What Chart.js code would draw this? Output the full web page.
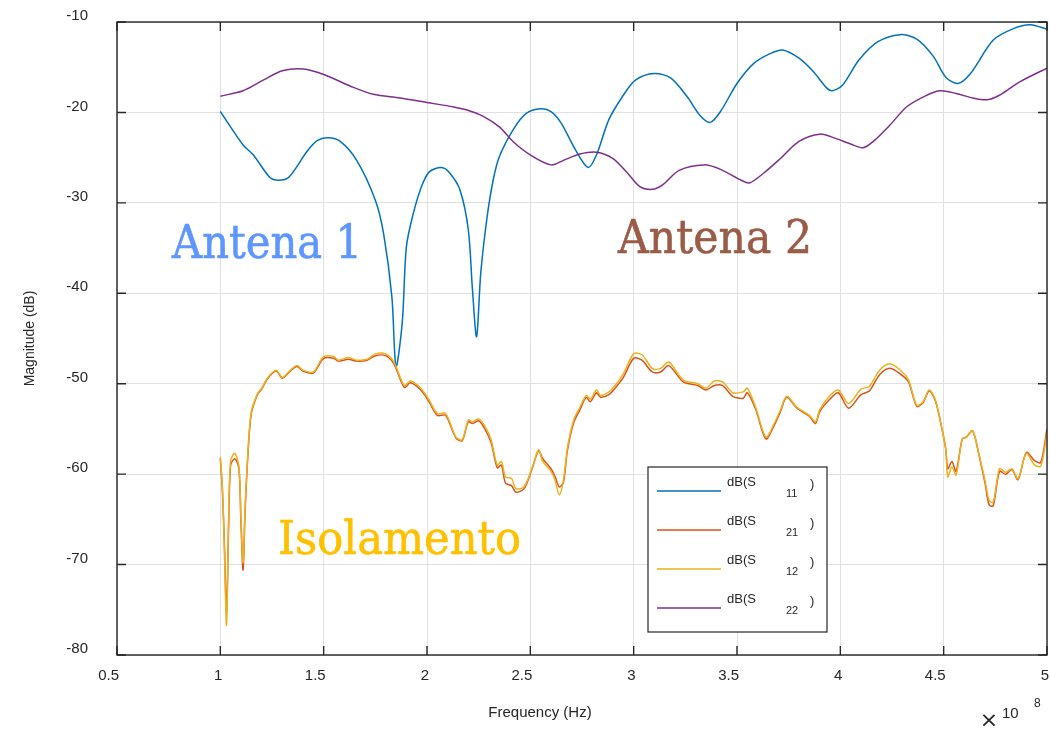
<!DOCTYPE html>
<html>
<head>
<meta charset="utf-8">
<script src="https://cdn.jsdelivr.net/npm/chart.js@4.4.1/dist/chart.umd.min.js"></script>
<style>
    body { margin: 0; background: #fff; }
    #wrap { position: relative; width: 1050px; height: 731px; }
</style>
</head>
<body>
<div id="wrap"><canvas id="chart" width="1050" height="731"></canvas></div>
<script>
// frequency in units of 1e8 Hz
const freqS11 = [1.00, 1.11, 1.16, 1.24, 1.28, 1.33, 1.42, 1.47, 1.52, 1.58, 1.66, 1.75, 1.79, 1.83, 1.85, 1.88, 1.90, 1.93, 1.97, 2.01,
    2.07, 2.11, 2.16, 2.20, 2.22, 2.24, 2.26, 2.29, 2.32, 2.35, 2.42, 2.48, 2.55, 2.60, 2.65, 2.72, 2.78, 2.82, 2.88, 2.95,
    3.01, 3.10, 3.18, 3.26, 3.32, 3.37, 3.42, 3.50, 3.58, 3.66, 3.72, 3.80, 3.87, 3.93, 3.96, 4.01, 4.09, 4.18, 4.29, 4.37,
    4.45, 4.51, 4.57, 4.63, 4.74, 4.84, 4.92, 5.00];
const s11 = [-19.9, -23.6, -24.7, -27.2, -27.5, -27.2, -24.3, -23.1, -22.8, -23.2, -25.3, -29.7, -33.4, -40.4, -48.1, -43.3, -34.9, -31.5, -28.4, -26.6,
    -26.1, -26.7, -28.6, -33.0, -39.6, -44.8, -37.8, -31.7, -27.5, -24.9, -21.8, -20.1, -19.6, -19.9, -21.2, -24.2, -26.1, -24.7, -20.8, -18.1,
    -16.4, -15.7, -16.2, -18.3, -20.3, -21.1, -19.9, -16.8, -14.6, -13.5, -13.1, -14.0, -15.5, -17.2, -17.6, -17.0, -14.2, -12.2, -11.4, -11.9,
    -13.8, -16.1, -16.8, -15.7, -12.0, -10.7, -10.3, -10.8];

const freqS22 = [1.00, 1.11, 1.21, 1.30, 1.40, 1.50, 1.63, 1.74, 1.87, 2.00, 2.13, 2.19, 2.27, 2.35, 2.42, 2.50, 2.60, 2.66, 2.74, 2.82,
    2.90, 2.97, 3.03, 3.09, 3.14, 3.22, 3.34, 3.42, 3.52, 3.56, 3.63, 3.71, 3.80, 3.90, 3.98, 4.05, 4.11, 4.16, 4.24, 4.32,
    4.40, 4.48, 4.56, 4.64, 4.71, 4.77, 4.87, 5.00];
const s22 = [-18.2, -17.6, -16.4, -15.4, -15.2, -15.8, -17.1, -18.0, -18.4, -18.9, -19.4, -19.7, -20.4, -21.6, -23.3, -24.7, -25.8, -25.3, -24.6, -24.4,
    -25.1, -26.7, -28.2, -28.5, -28.0, -26.4, -25.8, -26.3, -27.5, -27.8, -26.7, -25.1, -23.2, -22.4, -22.9, -23.5, -23.9, -23.2, -21.4, -19.4,
    -18.3, -17.6, -17.9, -18.4, -18.6, -18.1, -16.6, -15.1];

const freqIso = [1.00, 1.01, 1.02, 1.03, 1.04, 1.05, 1.07, 1.09, 1.10, 1.11, 1.12, 1.135, 1.15, 1.18, 1.20, 1.23, 1.27, 1.30, 1.33, 1.37,
    1.40, 1.45, 1.50, 1.55, 1.57, 1.62, 1.66, 1.71, 1.75, 1.80, 1.84, 1.89, 1.92, 1.97, 2.01, 2.05, 2.09, 2.14, 2.17, 2.20,
    2.22, 2.25, 2.28, 2.31, 2.34, 2.36, 2.38, 2.41, 2.43, 2.47, 2.51, 2.54, 2.56, 2.60, 2.62, 2.64, 2.66, 2.68, 2.71, 2.74,
    2.77, 2.79, 2.82, 2.84, 2.88, 2.91, 2.95, 3.00, 3.04, 3.09, 3.13, 3.17, 3.24, 3.31, 3.35, 3.39, 3.43, 3.48, 3.53, 3.55,
    3.59, 3.64, 3.68, 3.71, 3.74, 3.79, 3.85, 3.88, 3.90, 3.95, 3.99, 4.04, 4.10, 4.14, 4.19, 4.24, 4.30, 4.33, 4.37, 4.40,
    4.43, 4.46, 4.49, 4.51, 4.52, 4.54, 4.56, 4.59, 4.61, 4.64, 4.67, 4.70, 4.72, 4.74, 4.77, 4.80, 4.83, 4.86, 4.90, 4.94,
    4.97, 5.00];
const s12 = [-58.1, -61.4, -68.7, -76.7, -65.1, -58.5, -57.7, -59.2, -65.1, -69.8, -63.6, -57.0, -53.1, -51.1, -50.5, -49.3, -48.5, -49.3, -48.7, -48.0,
    -48.5, -48.7, -47.0, -47.0, -47.4, -47.1, -47.4, -47.3, -46.7, -46.7, -47.6, -50.2, -49.7, -50.5, -51.8, -53.3, -53.3, -55.9, -56.2, -54.0,
    -54.2, -53.9, -54.7, -56.2, -59.0, -58.6, -60.3, -60.5, -61.6, -61.4, -59.2, -57.3, -58.6, -59.7, -60.7, -62.3, -60.7, -57.0, -54.0, -52.6,
    -51.3, -51.7, -50.7, -51.3, -50.9, -50.2, -48.9, -46.7, -46.8, -48.3, -48.3, -47.6, -49.6, -50.0, -50.5, -49.7, -49.8, -51.0, -50.9, -50.5,
    -52.6, -55.9, -54.4, -52.9, -51.4, -52.6, -53.5, -54.2, -52.9, -51.3, -50.7, -52.2, -50.6, -50.3, -48.5, -47.8, -48.7, -49.6, -52.4, -52.0,
    -50.7, -51.8, -54.8, -57.3, -60.3, -59.2, -60.1, -56.1, -55.9, -55.2, -57.7, -60.7, -62.9, -63.1, -59.4, -59.8, -59.4, -60.5, -57.7, -59.0,
    -59.1, -55.5];
const s21 = [-58.3, -61.8, -68.0, -75.4, -65.8, -59.0, -58.3, -59.4, -65.5, -70.6, -64.0, -57.3, -53.3, -51.2, -50.6, -49.4, -48.6, -49.4, -48.8, -48.1,
    -48.6, -48.8, -47.2, -47.2, -47.5, -47.3, -47.5, -47.4, -46.9, -46.9, -47.8, -50.4, -49.9, -50.7, -52.0, -53.5, -53.5, -56.0, -56.3, -54.2,
    -54.4, -54.1, -55.0, -56.5, -59.3, -59.0, -61.0, -61.3, -62.0, -61.6, -59.3, -57.4, -58.3, -59.4, -60.3, -61.4, -60.9, -57.3, -54.3, -52.9,
    -51.5, -52.0, -51.0, -51.5, -51.2, -50.5, -49.3, -47.2, -47.4, -48.7, -48.7, -48.0, -49.8, -50.2, -50.7, -50.2, -50.2, -51.4, -51.6, -51.0,
    -52.8, -56.1, -54.6, -53.1, -51.5, -52.7, -53.6, -54.4, -53.1, -51.7, -51.0, -52.7, -51.2, -50.8, -49.0, -48.3, -49.1, -49.8, -52.5, -52.1,
    -50.8, -51.9, -54.8, -57.2, -59.4, -58.6, -59.7, -56.1, -55.9, -55.2, -57.8, -61.0, -63.4, -63.5, -59.7, -60.0, -59.5, -60.6, -57.6, -58.5,
    -58.7, -55.0];

const xTicks = [0.5, 1, 1.5, 2, 2.5, 3, 3.5, 4, 4.5, 5];
const yTicks = [-80, -70, -60, -50, -40, -30, -20, -10];

const seriesNames = ['11', '21', '12', '22'];
const seriesColors = ['#0072BD', '#D95319', '#EDB120', '#7E2F8E'];

function points(xs, ys) {
    return xs.map((x, i) => ({x: x, y: ys[i]}));
}

const AXIS_COLOR = '#262626';
const LABEL_FONT = '"Liberation Sans", Arial, sans-serif';

// caixa do grafico com ticks para dentro (estilo matlab)
const boxPlugin = {
    id: 'box',
    afterDraw(chart) {
        const ctx = chart.ctx;
        const a = chart.chartArea;
        const xs = chart.scales.x, ys = chart.scales.y;
        ctx.save();
        ctx.strokeStyle = AXIS_COLOR;
        ctx.lineWidth = 1.4;
        ctx.strokeRect(a.left, a.top, a.right - a.left, a.bottom - a.top);
        ctx.beginPath();
        xTicks.forEach(v => {
            const px = xs.getPixelForValue(v);
            ctx.moveTo(px, a.bottom); ctx.lineTo(px, a.bottom - 9);
            ctx.moveTo(px, a.top); ctx.lineTo(px, a.top + 9);
        });
        yTicks.forEach(v => {
            const py = ys.getPixelForValue(v);
            ctx.moveTo(a.left, py); ctx.lineTo(a.left + 9, py);
            ctx.moveTo(a.right, py); ctx.lineTo(a.right - 9, py);
        });
        ctx.stroke();

        ctx.fillStyle = AXIS_COLOR;
        ctx.textBaseline = 'middle';

        // titulo do eixo x (no matlab fica deslocado para a esquerda)
        ctx.font = '15px ' + LABEL_FONT;
        ctx.textAlign = 'center';
        ctx.fillText('Frequency (Hz)', 540, 713);

        // x 10^8
        ctx.textAlign = 'left';
        ctx.fillText('10', 1002, 714);
        ctx.font = '12px ' + LABEL_FONT;
        ctx.fillText('8', 1034, 704);
        ctx.font = '22px "DejaVu Sans", sans-serif';
        ctx.textAlign = 'center';
        ctx.fillText('×', 989, 721);

        // legenda
        const lx = 648, ly = 467, lw = 179, lh = 165;
        ctx.fillStyle = '#fff';
        ctx.fillRect(lx, ly, lw, lh);
        ctx.lineWidth = 1.2;
        ctx.strokeStyle = AXIS_COLOR;
        ctx.strokeRect(lx, ly, lw, lh);
        seriesNames.forEach((n, i) => {
            const y = 491 + i * 39;
            ctx.strokeStyle = seriesColors[i];
            ctx.lineWidth = 1.5;
            ctx.beginPath();
            ctx.moveTo(657, y); ctx.lineTo(721, y);
            ctx.stroke();
            ctx.fillStyle = AXIS_COLOR;
            ctx.textAlign = 'left';
            ctx.font = '13px ' + LABEL_FONT;
            ctx.fillText('dB(S', 727, y - 9);
            ctx.fillText(')', 810, y - 7);
            ctx.font = '11px ' + LABEL_FONT;
            ctx.fillText(n, 786, y + 3);
        });
        ctx.restore();
    }
};

// textos grandes dentro do grafico
const notes = [
    {text: 'Antena 1', x: 172, y: 258, w: 190, color: '#5E96FF'},
    {text: 'Antena 2', x: 618, y: 253, w: 194, color: '#9A5B47'},
    {text: 'Isolamento', x: 278, y: 554, w: 243, color: '#FFC000'}
];
const notesPlugin = {
    id: 'notes',
    afterDatasetsDraw(chart) {
        const ctx = chart.ctx;
        ctx.save();
        ctx.font = '46px "DejaVu Serif", serif';
        ctx.textBaseline = 'alphabetic';
        ctx.textAlign = 'left';
        notes.forEach(n => {
            const m = ctx.measureText(n.text).width;
            ctx.save();
            ctx.translate(n.x, n.y);
            ctx.scale(n.w / m, 1);
            ctx.fillStyle = n.color;
            ctx.strokeStyle = n.color;
            ctx.lineWidth = 0.6;
            ctx.fillText(n.text, 0, 0);
            ctx.strokeText(n.text, 0, 0);
            ctx.restore();
        });
        ctx.restore();
    }
};

const tickFont = {family: LABEL_FONT, size: 15};

new Chart(document.getElementById('chart'), {
    type: 'line',
    data: {
        datasets: [
            {label: 'dB(S11)', data: points(freqS11, s11), borderColor: seriesColors[0], order: 4},
            {label: 'dB(S21)', data: points(freqIso, s21), borderColor: seriesColors[1], order: 3},
            {label: 'dB(S12)', data: points(freqIso, s12), borderColor: seriesColors[2], order: 2},
            {label: 'dB(S22)', data: points(freqS22, s22), borderColor: seriesColors[3], order: 1}
        ]
    },
    options: {
        responsive: false,
        animation: false,
        layout: {padding: {top: 22, right: 3, left: 0, bottom: 0}},
        elements: {
            point: {radius: 0},
            line: {borderWidth: 1.5, tension: 0.3, fill: false}
        },
        plugins: {legend: {display: false}, tooltip: {enabled: false}},
        scales: {
            x: {
                type: 'linear',
                min: 0.5,
                max: 5,
                afterFit: s => {
                    s.height = 76;
                    s.paddingLeft = 0;
                    s.paddingRight = 0;
                },
                afterBuildTicks: s => { s.ticks = xTicks.map(v => ({value: v})); },
                grid: {color: '#e0e0e0', drawTicks: false},
                border: {display: false},
                ticks: {
                    font: tickFont, color: AXIS_COLOR, padding: 12,
                    align: 'end', labelOffset: 2,
                    maxRotation: 0, autoSkip: false,
                    callback: v => String(v)
                },
                title: {display: false}
            },
            y: {
                min: -80,
                max: -10,
                afterFit: s => {
                    s.width = 117;
                    s.paddingTop = 0;
                    s.paddingBottom = 0;
                },
                afterBuildTicks: s => { s.ticks = yTicks.map(v => ({value: v})); },
                grid: {color: '#e0e0e0', drawTicks: false},
                border: {display: false},
                ticks: {
                    font: tickFont, color: AXIS_COLOR, padding: 29, labelOffset: -6,
                    callback: v => String(v)
                },
                title: {
                    display: true, text: 'Magnitude (dB)', color: AXIS_COLOR,
                    font: {family: LABEL_FONT, size: 14},
                    padding: {top: 22, bottom: 0}
                }
            }
        }
    },
    plugins: [notesPlugin, boxPlugin]
});
</script>
</body>
</html>
